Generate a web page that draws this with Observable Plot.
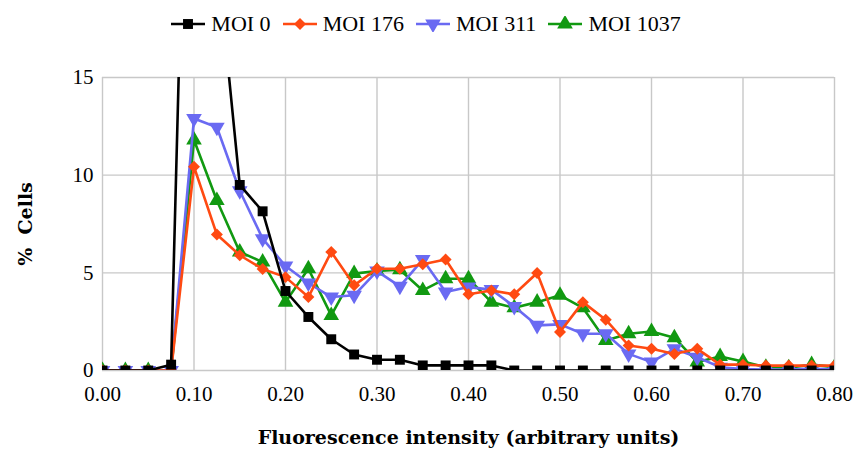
<!DOCTYPE html>
<html>
<head>
<meta charset="utf-8">
<script src="https://cdn.jsdelivr.net/npm/d3@7"></script>
<script src="https://cdn.jsdelivr.net/npm/@observablehq/plot@0.6"></script>
<style>
  body { margin: 0; background: #fff; font-family: "Liberation Serif", serif; }
  #legend { display: flex; justify-content: center; align-items: center; height: 48px; padding-left: 8px; box-sizing: border-box; font-size: 22px; color: #000; }
  #legend .item { display: flex; align-items: center; margin-right: 11px; }
  #legend svg { margin-right: 5px; }
</style>
</head>
<body>
<div id="legend"></div>
<div id="chart"></div>
<script>
const intensity = [0.000, 0.025, 0.050, 0.075, 0.100, 0.125, 0.150, 0.175, 0.200, 0.225, 0.250, 0.275, 0.300, 0.325, 0.350, 0.375, 0.400, 0.425, 0.450, 0.475, 0.500, 0.525, 0.550, 0.575, 0.600, 0.625, 0.650, 0.675, 0.700, 0.725, 0.750, 0.775, 0.800];
const seriesNames = ["MOI 0", "MOI 176", "MOI 311", "MOI 1037"];
const moi0    = [0, 0, 0, 0.3, 45, 21.3, 9.5, 8.15, 4.07, 2.74, 1.6, 0.82, 0.55, 0.55, 0.26, 0.26, 0.26, 0.26, 0, 0, 0, 0, 0, 0, 0, 0, 0, 0, 0, 0, 0, 0, 0];
const moi176  = [0, 0, 0, 0, 10.43, 6.96, 5.9, 5.2, 4.78, 3.76, 6.07, 4.36, 5.21, 5.21, 5.44, 5.68, 3.9, 4.1, 3.9, 4.99, 1.97, 3.5, 2.6, 1.28, 1.11, 0.85, 1.11, 0.3, 0.3, 0.25, 0.25, 0.25, 0.25];
const moi311  = [0, 0, 0, 0, 12.9, 12.45, 9.2, 6.75, 5.35, 4.48, 3.76, 3.85, 5.09, 4.31, 5.68, 4.02, 4.27, 4.14, 3.28, 2.31, 2.36, 1.88, 1.88, 0.85, 0.43, 1.11, 0.68, 0.17, 0.08, 0.05, 0.05, 0.1, 0.05];
const moi1037 = [0, 0, 0, 0, 11.8, 8.7, 6.07, 5.55, 3.5, 5.21, 2.82, 4.96, 5.09, 5.16, 4.1, 4.7, 4.7, 3.5, 3.21, 3.5, 3.85, 3.21, 1.54, 1.88, 2.0, 1.68, 0.43, 0.72, 0.46, 0.17, 0.14, 0.3, 0.17];
const xTicks = [0, 0.1, 0.2, 0.3, 0.4, 0.5, 0.6, 0.7, 0.8];
const yTicks = [0, 5, 10, 15];
const colors = ["#000000", "#ff4a12", "#6a6af2", "#119911"];
const xLabel = "Fluorescence intensity (arbitrary units)";
const yLabel = "%  Cells";

const triangleDown = {
  draw(context, size) {
    const y = -Math.sqrt(size / (Math.sqrt(3) * 3));
    context.moveTo(0, -y * 2);
    context.lineTo(-Math.sqrt(3) * y, y);
    context.lineTo(Math.sqrt(3) * y, y);
    context.closePath();
  }
};
const symbols = ["square", "diamond2", triangleDown, "triangle"];
const radii = [5.6, 5.4, 5.8, 5.8];
const valuesList = [moi0, moi176, moi311, moi1037];

const rows = [];
seriesNames.forEach((s, i) => intensity.forEach((x, j) => rows.push({series: s, idx: i, x, y: valuesList[i][j]})));

// draw order: green, blue, red, black on top
const order = [3, 2, 1, 0];
const seriesMarks = order.flatMap(i => {
  const data = rows.filter(d => d.idx === i);
  return [
    Plot.line(data, {x: "x", y: "y", stroke: colors[i], strokeWidth: 2.6, clip: true}),
    Plot.dot(data, {x: "x", y: "y", fill: colors[i], stroke: "none", r: radii[i], symbol: () => symbols[i], clip: true})
  ];
});

const chart = Plot.plot({
  width: 854,
  height: 402,
  marginLeft: 102,
  marginRight: 20,
  marginTop: 29,
  marginBottom: 80,
  style: {fontFamily: "Liberation Serif, serif", fontSize: "21px", color: "#000", background: "#fff"},
  x: {domain: [0, 0.8]},
  y: {domain: [0, 15]},
  marks: [
    Plot.ruleX(xTicks, {stroke: "#c8c8c8", strokeWidth: 1.4}),
    Plot.ruleY(yTicks, {stroke: "#c8c8c8", strokeWidth: 1.4}),
    Plot.axisX({ticks: xTicks, tickFormat: d3.format(".2f"), tickSize: 0, tickPadding: 16, label: null, fontSize: 21}),
    Plot.axisY({ticks: yTicks, tickFormat: d3.format("d"), tickSize: 0, tickPadding: 9, label: null, fontSize: 21}),
    ...seriesMarks,
    Plot.text([xLabel], {frameAnchor: "bottom", dy: 67, textAnchor: "middle", lineAnchor: "middle", fontWeight: "bold", fontSize: 19, fontFamily: "DejaVu Serif"}),
    Plot.text([yLabel], {frameAnchor: "left", dx: -77, rotate: -90, textAnchor: "middle", lineAnchor: "middle", fontWeight: "bold", fontSize: 19, fontFamily: "DejaVu Serif"})
  ]
});
document.getElementById("chart").appendChild(chart);

// legend
const legend = d3.select("#legend");
seriesNames.forEach((name, i) => {
  const item = legend.append("div").attr("class", "item");
  const svg = item.append("svg").attr("width", 36).attr("height", 16);
  svg.append("line").attr("x1", 1).attr("x2", 35).attr("y1", 8).attr("y2", 8).attr("stroke", colors[i]).attr("stroke-width", 2.6);
  const path = d3.path();
  const size = Math.PI * radii[i] * radii[i];
  const symObj = {square: d3.symbolSquare, diamond2: d3.symbolDiamond2, triangle: d3.symbolTriangle}[symbols[i]] || symbols[i];
  symObj.draw(path, size);
  svg.append("path").attr("d", path.toString()).attr("transform", "translate(18,8)").attr("fill", colors[i]);
  item.append("span").text(name);
});
</script>
</body>
</html>
